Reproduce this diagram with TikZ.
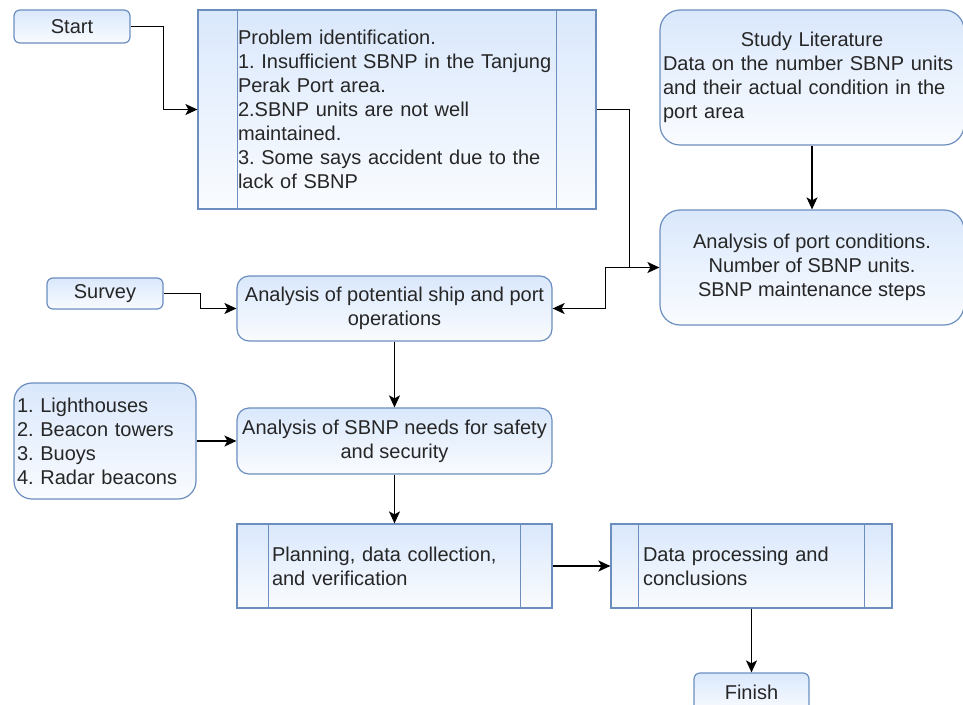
\documentclass[tikz,border=0pt]{standalone}
\usepackage{fontspec}
\setmainfont{Liberation Sans}
\usepackage{xcolor}
\usetikzlibrary{arrows.meta,positioning,calc}
\definecolor{boxfill}{HTML}{DAE8FC}
\definecolor{boxedge}{HTML}{6C8EBF}
\frenchspacing
\hyphenpenalty=10000

\begin{document}
\begin{tikzpicture}[
  x=1pt, y=-1pt,
  font=\fontsize{20}{24}\selectfont,
  box/.style={draw=boxedge,line width=1.2pt,top color=boxfill,bottom color=boxfill!15,inner sep=0pt,text=black!85},
  rbox/.style={box,rounded corners=#1},
  sideline/.style={draw=boxedge,line width=1.2pt},
  arrow/.style={-{Stealth[length=12pt,width=11pt,inset=3pt]},line width=1.5pt},
]
\clip (0,0) rectangle (963,704);
\node[rbox=6pt,minimum width=116pt,minimum height=33pt] (start) at (72,26.5) {Start};
\node[box,minimum width=398pt,minimum height=199pt,text width=318pt,align=left] (prob) at (397,109.5)
  {Problem identification.\\1. Insufficient SBNP in the Tanjung\\Perak Port area.\\2.SBNP units are not well\\maintained.\\3. Some says accident due to the\\lack of SBNP};
\node[rbox=20pt,minimum width=304pt,minimum height=135pt,text width=298pt,align=left] (lit) at (812,77.5)
  {\makebox[298pt]{Study Literature}\\Data on the number SBNP units\\and their actual condition in the\\port area};
\node[rbox=20pt,minimum width=304pt,minimum height=115pt,align=center] (port) at (812,267.5)
  {Analysis of port conditions.\\Number of SBNP units.\\SBNP maintenance steps};
\node[rbox=6pt,minimum width=116pt,minimum height=31pt] (survey) at (105,293.5) {Survey};
\node[rbox=12pt,minimum width=315pt,minimum height=65pt,align=center] (pot) at (394.5,308.5)
  {Analysis of potential ship and port\\operations};
\node[rbox=18pt,minimum width=182pt,minimum height=116pt,text width=176pt,align=left] (aids) at (105,441)
  {1. Lighthouses\\2. Beacon towers\\3. Buoys\\4. Radar beacons};
\node[rbox=12pt,minimum width=315pt,minimum height=66pt,align=center] (needs) at (394.5,441)
  {Analysis of SBNP needs for safety\\and security};
\node[box,minimum width=315pt,minimum height=84pt,text width=245pt,align=left] (plan) at (394.5,566)
  {Planning, data collection,\\and verification};
\node[box,minimum width=281pt,minimum height=84pt,text width=217pt,align=left] (proc) at (751.5,566)
  {Data processing and\\conclusions};
\node[rbox=6pt,minimum width=115pt,minimum height=38pt] (finish) at (751.5,692) {Finish};

% side bars of the process boxes
\draw[sideline] ([xshift=40pt]prob.north west) -- ([xshift=40pt]prob.south west);
\draw[sideline] ([xshift=-40pt]prob.north east) -- ([xshift=-40pt]prob.south east);
\draw[sideline] ([xshift=32pt]plan.north west) -- ([xshift=32pt]plan.south west);
\draw[sideline] ([xshift=-32pt]plan.north east) -- ([xshift=-32pt]plan.south east);
\draw[sideline] ([xshift=28pt]proc.north west) -- ([xshift=28pt]proc.south west);
\draw[sideline] ([xshift=-28pt]proc.north east) -- ([xshift=-28pt]proc.south east);

% connectors
\draw[arrow] (start.east) -- ++(33,0) |- (prob.west);
\draw[arrow] (prob.east) -- ++(33,0) |- (port.west);
\draw[arrow] (port.west) -- ++(-54,0) |- (pot.east);
\draw[arrow] (survey.east) -- ++(37,0) |- (pot.west);
\draw[arrow] (lit.south) -- (port.north);
\draw[arrow] (pot.south) -- (needs.north);
\draw[arrow] (aids.east) -- (needs.west);
\draw[arrow] (needs.south) -- (plan.north);
\draw[arrow] (plan.east) -- (proc.west);
\draw[arrow] (proc.south) -- (finish.north);
\end{tikzpicture}
\end{document}
